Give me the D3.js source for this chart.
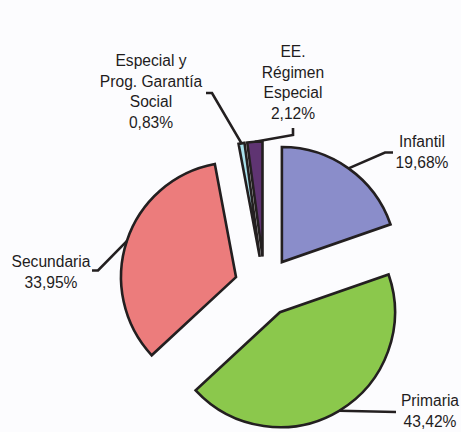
<!DOCTYPE html>
<html>
<head>
<meta charset="utf-8">
<script src="https://cdn.jsdelivr.net/npm/d3@7"></script>
<style>
  html, body { margin: 0; padding: 0; background: #fcfcfe; }
  svg { display: block; }
  text { font-family: "Liberation Sans", Arial, sans-serif; font-size: 15.6px; fill: #1f1c1d; }
</style>
</head>
<body>
<svg id="chart" width="461" height="432"></svg>
<script>
// data, clockwise from 12 o'clock
const categories = ["Infantil", "Primaria", "Secundaria", "Especial y Prog. Garantía Social", "EE. Régimen Especial"];
const values = [19.68, 43.42, 33.95, 0.83, 2.12];
const valueLabels = ["19,68%", "43,42%", "33,95%", "0,83%", "2,12%"];
const labelLines = [
    ["Infantil", "19,68%"],
    ["Primaria", "43,42%"],
    ["Secundaria", "33,95%"],
    ["Especial y", "Prog. Garantía", "Social", "0,83%"],
    ["EE.", "Régimen", "Especial", "2,12%"]
];
const colors = ["#8a8dca", "#8bc84c", "#ec7c7c", "#a9e1ec", "#5f3472"];

const svg = d3.select("#chart");

const center = { x: 264.5, y: 286.5 };
const radius = 115;
const explode = 30;

// label layout: text anchor, first baseline, leader elbow and end
const layout = [
    { x: 422, y: 147, elbow: [385, 152.5], end: [393, 152.5] },
    { x: 430, y: 406, elbow: [396, 412], end: [396, 412] },
    { x: 51, y: 267, elbow: [98, 270.5], end: [92, 270.5] },
    { x: 151, y: 66, elbow: [212, 93], end: [206, 93] },
    { x: 293, y: 57, elbow: [293, 135], end: [293, 128] }
];
const lineStep = 20.7;

const pie = d3.pie().sort(null).value(d => d);
const arcs = pie(values);
const arc = d3.arc().innerRadius(0).outerRadius(radius);

const g = svg.append("g")
    .attr("transform", `translate(${center.x}, ${center.y})`);

function offset(d, dist) {
    const a = (d.startAngle + d.endAngle) / 2;
    return [dist * Math.sin(a), -dist * Math.cos(a)];
}

g.selectAll(".slice")
    .data(arcs)
    .enter()
    .append("path")
        .attr("class", "slice")
        .attr("transform", d => `translate(${offset(d, explode)})`)
        .attr("d", arc)
        .attr("fill", (d, i) => colors[i])
        .attr("stroke", "#231f20")
        .attr("stroke-width", 2.6)
        .attr("stroke-linejoin", "miter");

// ---- LEADERS ---- //
const line = d3.line();
arcs.forEach((d, i) => {
    const o = offset(d, explode);
    const p = offset(d, radius);
    const start = [center.x + o[0] + p[0], center.y + o[1] + p[1]];
    const L = layout[i];
    svg.append("path")
        .attr("d", line([start, L.elbow, L.end]))
        .attr("fill", "none")
        .attr("stroke", "#231f20")
        .attr("stroke-width", 2.6);
});

// ---- LABELS ---- //
labelLines.forEach((lines, i) => {
    const L = layout[i];
    const t = svg.append("text")
        .attr("text-anchor", "middle");
    lines.forEach((s, j) => {
        t.append("tspan")
            .attr("x", L.x)
            .attr("y", L.y + j * lineStep)
            .text(s);
    });
});
</script>
</body>
</html>
